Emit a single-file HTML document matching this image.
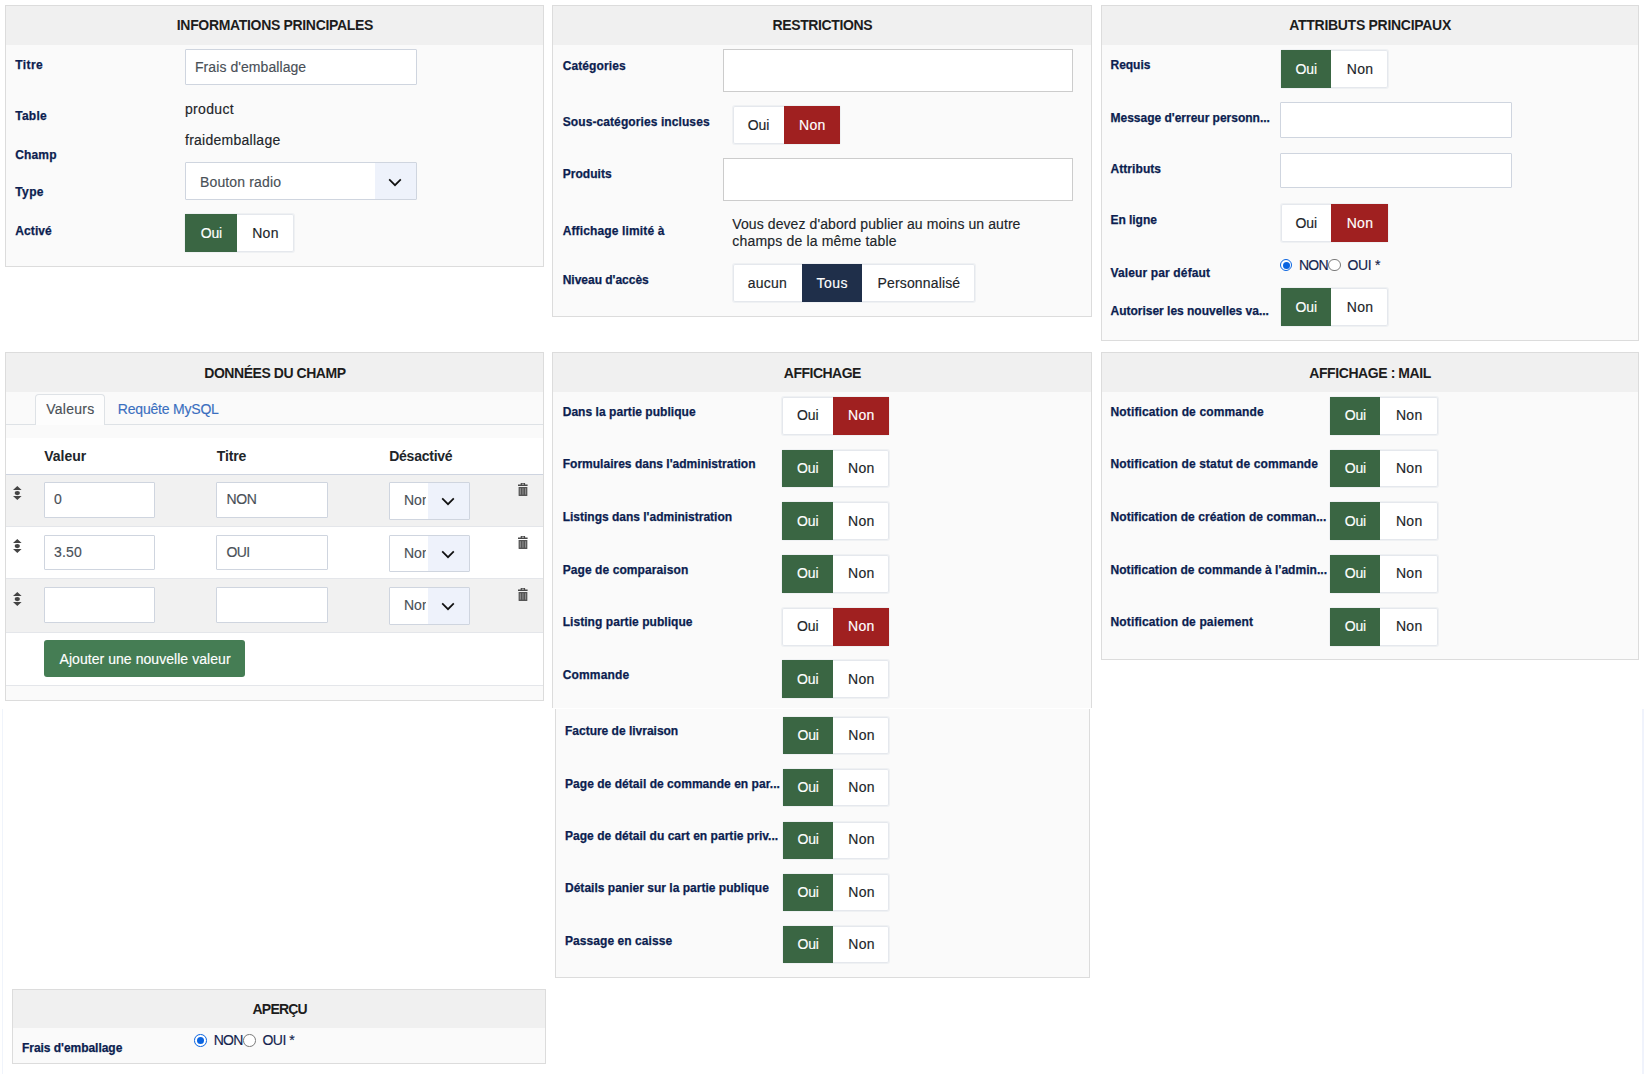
<!DOCTYPE html>
<html lang="fr"><head><meta charset="utf-8"><title>Champ</title><style>
html,body{margin:0;padding:0;background:#fff;}
#p{position:relative;width:1644px;height:1080px;overflow:hidden;background:#fff;font-family:"Liberation Sans",sans-serif;}
#p div{position:absolute;}
.t{position:absolute;white-space:nowrap;display:block;}
.h{font-weight:bold;font-size:14px;color:#1d1d1d;}
.l{font-weight:bold;font-size:12px;color:#0c1e50;-webkit-text-stroke:0.25px #0c1e50;}
.th{font-weight:bold;font-size:14px;color:#212529;}
.n{font-size:14px;-webkit-text-stroke:0.15px currentColor;}
.b{font-size:14px;color:#212529;-webkit-text-stroke:0.15px currentColor;}
.w{color:#fff;}
.g{color:#495057;}
.d{color:#212529;}
.v{color:#14244e;}
</style></head><body><div id="p">
<div style="left:5px;top:5px;width:539px;height:262px;background:#fafafa;border:1px solid #dcdcdc;box-sizing:border-box;"></div>
<div style="left:6px;top:6px;width:537px;height:39px;background:#f0f0f0;"></div>
<span class="t h" style="left:176.8px;top:15px;line-height:20px;letter-spacing:-0.327px;">INFORMATIONS PRINCIPALES</span>
<span class="t l" style="left:15.3px;top:55px;line-height:20px;letter-spacing:0.421px;">Titre</span>
<span class="t l" style="left:15.3px;top:106px;line-height:20px;letter-spacing:0.229px;">Table</span>
<span class="t l" style="left:15.3px;top:145px;line-height:20px;letter-spacing:0.126px;">Champ</span>
<span class="t l" style="left:15.3px;top:182px;line-height:20px;letter-spacing:0.369px;">Type</span>
<span class="t l" style="left:15.3px;top:221px;line-height:20px;letter-spacing:0.095px;">Activé</span>
<div style="left:185px;top:49px;width:232px;height:36px;background:#fff;border:1px solid #cfd5df;box-sizing:border-box;border-radius:1px;"></div>
<span class="t n g" style="left:195px;top:57px;line-height:20px;letter-spacing:0.067px;">Frais d'emballage</span>
<span class="t n d" style="left:185px;top:99px;line-height:20px;letter-spacing:0.328px;">product</span>
<span class="t n d" style="left:185px;top:130px;line-height:20px;letter-spacing:0.261px;">fraidemballage</span>
<div style="left:185px;top:162px;width:232px;height:38px;background:#fff;border:1px solid #cfd5df;box-sizing:border-box;border-radius:1px;"></div>
<div style="left:375px;top:163px;width:41px;height:36px;background:#eef2fb;"></div>
<span class="t n g" style="left:200px;top:172px;line-height:20px;letter-spacing:0.141px;">Bouton radio</span>
<svg width="14" height="9" viewBox="0 0 14 9" style="position:absolute;left:388px;top:178.1px"><path d="M1.2 1.3 L7 7.2 L12.8 1.3" fill="none" stroke="#111" stroke-width="1.7" stroke-linecap="butt" stroke-linejoin="miter"/></svg>
<div style="left:185.4px;top:214px;width:108.2px;height:37.9px;background:#fff;box-shadow:inset 0 0 0 1px rgba(222,226,232,.8),0 0 0 1px rgba(222,226,232,.38);border-radius:2px;"></div>
<div style="left:185.4px;top:214px;width:51.2px;height:37.9px;background:#3a6643;"></div>
<span class="t b w" style="left:200.65px;top:223px;line-height:20px;letter-spacing:-0.099px;">Oui</span>
<span class="t b" style="left:252.2px;top:223px;line-height:20px;letter-spacing:0.304px;">Non</span>
<div style="left:552px;top:5px;width:540px;height:312px;background:#fafafa;border:1px solid #dcdcdc;box-sizing:border-box;"></div>
<div style="left:553px;top:6px;width:538px;height:39px;background:#f0f0f0;"></div>
<span class="t h" style="left:772.5px;top:15px;line-height:20px;letter-spacing:-0.37px;">RESTRICTIONS</span>
<span class="t l" style="left:562.7px;top:56px;line-height:20px;letter-spacing:0.097px;">Catégories</span>
<span class="t l" style="left:562.7px;top:112px;line-height:20px;letter-spacing:0.094px;">Sous-catégories incluses</span>
<span class="t l" style="left:562.7px;top:164px;line-height:20px;letter-spacing:0.041px;">Produits</span>
<span class="t l" style="left:562.7px;top:221px;line-height:20px;letter-spacing:0.136px;">Affichage limité à</span>
<span class="t l" style="left:562.7px;top:270px;line-height:20px;letter-spacing:-0.011px;">Niveau d'accès</span>
<div style="left:723px;top:49px;width:350px;height:43px;background:#fff;border:1px solid #ccc;box-sizing:border-box;"></div>
<div style="left:732.5px;top:106px;width:107.5px;height:37.7px;background:#fff;box-shadow:inset 0 0 0 1px rgba(222,226,232,.8),0 0 0 1px rgba(222,226,232,.38);border-radius:2px;"></div>
<span class="t b" style="left:747.8px;top:115px;line-height:20px;letter-spacing:-0.099px;">Oui</span>
<div style="left:783.8px;top:106px;width:56.2px;height:37.7px;background:#a02020;"></div>
<span class="t b w" style="left:799.0px;top:115px;line-height:20px;letter-spacing:0.304px;">Non</span>
<div style="left:723px;top:158px;width:350px;height:43px;background:#fff;border:1px solid #ccc;box-sizing:border-box;"></div>
<span class="t n d" style="left:732.3px;top:214px;line-height:20px;letter-spacing:0.086px;">Vous devez d'abord publier au moins un autre</span>
<span class="t n d" style="left:732.3px;top:231px;line-height:20px;letter-spacing:0.178px;">champs de la même table</span>
<div style="left:732.5px;top:264.2px;width:242.5px;height:37.6px;background:#fff;box-shadow:inset 0 0 0 1px rgba(222,226,232,.8),0 0 0 1px rgba(222,226,232,.38);border-radius:2px;"></div>
<span class="t b" style="left:747.8px;top:273px;line-height:20px;letter-spacing:0.229px;">aucun</span>
<div style="left:801.6px;top:264.2px;width:60.4px;height:37.6px;background:#1f2f4a;"></div>
<span class="t b w" style="left:816.6px;top:273px;line-height:20px;letter-spacing:0.405px;">Tous</span>
<span class="t b" style="left:877.5px;top:273px;line-height:20px;letter-spacing:0.155px;">Personnalisé</span>
<div style="left:1100.6px;top:5px;width:538.2px;height:336px;background:#fafafa;border:1px solid #dcdcdc;box-sizing:border-box;"></div>
<div style="left:1101.6px;top:6px;width:536.2px;height:39px;background:#f0f0f0;"></div>
<span class="t h" style="left:1289.25px;top:15px;line-height:20px;letter-spacing:-0.289px;">ATTRIBUTS PRINCIPAUX</span>
<span class="t l" style="left:1110.5px;top:55px;line-height:20px;letter-spacing:-0.019px;">Requis</span>
<span class="t l" style="left:1110.5px;top:108px;line-height:20px;letter-spacing:-0.007px;">Message d'erreur personn...</span>
<span class="t l" style="left:1110.5px;top:159px;line-height:20px;letter-spacing:0.067px;">Attributs</span>
<span class="t l" style="left:1110.5px;top:210px;line-height:20px;letter-spacing:-0.046px;">En ligne</span>
<span class="t l" style="left:1110.5px;top:263px;line-height:20px;letter-spacing:0.137px;">Valeur par défaut</span>
<span class="t l" style="left:1110.5px;top:301px;line-height:20px;letter-spacing:-0.012px;">Autoriser les nouvelles va...</span>
<div style="left:1280.8px;top:49.9px;width:107.7px;height:37.7px;background:#fff;box-shadow:inset 0 0 0 1px rgba(222,226,232,.8),0 0 0 1px rgba(222,226,232,.38);border-radius:2px;"></div>
<div style="left:1280.8px;top:49.9px;width:50.1px;height:37.7px;background:#3a6643;"></div>
<span class="t b w" style="left:1295.5px;top:59px;line-height:20px;letter-spacing:-0.099px;">Oui</span>
<span class="t b" style="left:1346.8px;top:59px;line-height:20px;letter-spacing:0.304px;">Non</span>
<div style="left:1280px;top:102px;width:231.6px;height:35.8px;background:#fff;border:1px solid #cfd5df;box-sizing:border-box;border-radius:1px;"></div>
<div style="left:1280px;top:153px;width:231.6px;height:35.2px;background:#fff;border:1px solid #cfd5df;box-sizing:border-box;border-radius:1px;"></div>
<div style="left:1280.8px;top:204px;width:107.5px;height:37.9px;background:#fff;box-shadow:inset 0 0 0 1px rgba(222,226,232,.8),0 0 0 1px rgba(222,226,232,.38);border-radius:2px;"></div>
<span class="t b" style="left:1295.5px;top:213px;line-height:20px;letter-spacing:-0.099px;">Oui</span>
<div style="left:1330.8999999999999px;top:204px;width:57.4px;height:37.9px;background:#a02020;"></div>
<span class="t b w" style="left:1346.7px;top:213px;line-height:20px;letter-spacing:0.304px;">Non</span>
<div style="left:1279.80px;top:258.80px;width:12.6px;height:12.6px;box-sizing:border-box;border:1.5px solid #0a64e0;border-radius:50%;background:#fff"></div>
<div style="left:1282.60px;top:261.60px;width:7px;height:7px;border-radius:50%;background:#0a64e0"></div>
<span class="t n v" style="left:1298.9px;top:255px;line-height:20px;letter-spacing:-0.675px;">NON</span>
<div style="left:1328.20px;top:258.80px;width:12.6px;height:12.6px;box-sizing:border-box;border:1.1px solid #7a7a7a;border-radius:50%;background:#fff"></div>
<span class="t n v" style="left:1347.6px;top:255px;line-height:20px;letter-spacing:-0.367px;">OUI *</span>
<div style="left:1280.8px;top:288.1px;width:107.7px;height:37.7px;background:#fff;box-shadow:inset 0 0 0 1px rgba(222,226,232,.8),0 0 0 1px rgba(222,226,232,.38);border-radius:2px;"></div>
<div style="left:1280.8px;top:288.1px;width:50.1px;height:37.7px;background:#3a6643;"></div>
<span class="t b w" style="left:1295.5px;top:297px;line-height:20px;letter-spacing:-0.099px;">Oui</span>
<span class="t b" style="left:1346.8px;top:297px;line-height:20px;letter-spacing:0.304px;">Non</span>
<div style="left:5px;top:352px;width:539px;height:349px;background:#fafafa;border:1px solid #dcdcdc;box-sizing:border-box;"></div>
<div style="left:6px;top:353px;width:537px;height:39px;background:#f0f0f0;"></div>
<span class="t h" style="left:204.25px;top:363px;line-height:20px;letter-spacing:-0.455px;">DONNÉES DU CHAMP</span>
<div style="left:6px;top:424px;width:537px;height:1px;background:#dee2e6;"></div>
<div style="left:35px;top:394px;width:70px;height:31px;background:#fdfdfd;border:1px solid #dee2e6;border-bottom:none;box-sizing:border-box;border-radius:4px 4px 0 0;"></div>
<span class="t n g" style="left:46.3px;top:399px;line-height:20px;letter-spacing:0.237px;">Valeurs</span>
<span class="t n" style="left:117.8px;top:399px;line-height:20px;letter-spacing:-0.2px;color:#3a6fc0;">Requête MySQL</span>
<div style="left:6px;top:438px;width:537px;height:247.5px;background:#fff;"></div>
<span class="t th" style="left:44.3px;top:446px;line-height:20px;letter-spacing:-0.022px;">Valeur</span>
<span class="t th" style="left:216.8px;top:446px;line-height:20px;letter-spacing:-0.159px;">Titre</span>
<span class="t th" style="left:389.2px;top:446px;line-height:20px;letter-spacing:-0.243px;">Désactivé</span>
<div style="left:6px;top:474px;width:537px;height:1px;background:#ced4e0;"></div>
<div style="left:6px;top:475px;width:537px;height:51.4px;background:#f1f1f1;"></div>
<div style="left:6px;top:525.8px;width:537px;height:1px;background:#e4e6ea;"></div>
<svg width="8.6" height="14" viewBox="0 0 8.6 14" style="position:absolute;left:13.1px;top:486.05px"><path d="M4.3 0 L8.6 3.95 H0 Z M4.3 13.95 L0 10 H8.6 Z" fill="#444"/><ellipse cx="4.3" cy="7.05" rx="2.65" ry="2.1" fill="#444"/></svg>
<div style="left:44px;top:482.1px;width:111.2px;height:35.9px;background:#fff;border:1px solid #cfd5df;box-sizing:border-box;border-radius:1px;"></div>
<span class="t n g" style="left:54.1px;top:489px;line-height:20px;letter-spacing:0.803px;">0</span>
<div style="left:216px;top:482.1px;width:111.6px;height:35.9px;background:#fff;border:1px solid #cfd5df;box-sizing:border-box;border-radius:1px;"></div>
<span class="t n g" style="left:226.4px;top:489px;line-height:20px;letter-spacing:-0.308px;">NON</span>
<div style="left:389px;top:482.3px;width:80.6px;height:37.3px;background:#fff;border:1px solid #cfd5df;box-sizing:border-box;border-radius:1px;"></div>
<div style="left:427.7px;top:483.3px;width:40.900000000000034px;height:35.3px;background:#eef2fb;"></div>
<span class="t n g" style="left:404px;top:490px;line-height:20px;width:22.3px;overflow:hidden;">Non</span>
<svg width="14" height="9" viewBox="0 0 14 9" style="position:absolute;left:440.7px;top:497.0px"><path d="M1.2 1.3 L7 7.2 L12.8 1.3" fill="none" stroke="#111" stroke-width="1.7" stroke-linecap="butt" stroke-linejoin="miter"/></svg>
<svg width="9.6" height="13" viewBox="0 0 9.6 13" style="position:absolute;left:518.3px;top:483.05px"><path d="M2.7 0 H7.1 V1.6 H9.6 V3.1 H0 V1.6 H2.7 Z M3.9 0.8 V1.6 H5.9 V0.8 Z" fill="#484848" fill-rule="evenodd"/><path d="M0.6 3.9 H9.35 V12.4 Q9.35 13 8.75 13 H1.2 Q0.6 13 0.6 12.4 Z" fill="#555"/><path d="M2.3 5.2 V11.6 M4.95 5.2 V11.6 M7.6 5.2 V11.6" stroke="#9c9c9c" stroke-width="0.9"/></svg>
<div style="left:6px;top:578.3px;width:537px;height:1px;background:#e4e6ea;"></div>
<svg width="8.6" height="14" viewBox="0 0 8.6 14" style="position:absolute;left:13.1px;top:538.9px"><path d="M4.3 0 L8.6 3.95 H0 Z M4.3 13.95 L0 10 H8.6 Z" fill="#444"/><ellipse cx="4.3" cy="7.05" rx="2.65" ry="2.1" fill="#444"/></svg>
<div style="left:44px;top:534.7px;width:111.2px;height:35.4px;background:#fff;border:1px solid #cfd5df;box-sizing:border-box;border-radius:1px;"></div>
<span class="t n g" style="left:54.1px;top:542px;line-height:20px;letter-spacing:0.163px;">3.50</span>
<div style="left:216px;top:534.7px;width:111.6px;height:35.4px;background:#fff;border:1px solid #cfd5df;box-sizing:border-box;border-radius:1px;"></div>
<span class="t n g" style="left:226.4px;top:542px;line-height:20px;letter-spacing:-0.564px;">OUI</span>
<div style="left:389px;top:534.9000000000001px;width:80.6px;height:37.3px;background:#fff;border:1px solid #cfd5df;box-sizing:border-box;border-radius:1px;"></div>
<div style="left:427.7px;top:535.9000000000001px;width:40.900000000000034px;height:35.3px;background:#eef2fb;"></div>
<span class="t n g" style="left:404px;top:543px;line-height:20px;width:22.3px;overflow:hidden;">Non</span>
<svg width="14" height="9" viewBox="0 0 14 9" style="position:absolute;left:440.7px;top:549.6px"><path d="M1.2 1.3 L7 7.2 L12.8 1.3" fill="none" stroke="#111" stroke-width="1.7" stroke-linecap="butt" stroke-linejoin="miter"/></svg>
<svg width="9.6" height="13" viewBox="0 0 9.6 13" style="position:absolute;left:518.3px;top:535.6500000000001px"><path d="M2.7 0 H7.1 V1.6 H9.6 V3.1 H0 V1.6 H2.7 Z M3.9 0.8 V1.6 H5.9 V0.8 Z" fill="#484848" fill-rule="evenodd"/><path d="M0.6 3.9 H9.35 V12.4 Q9.35 13 8.75 13 H1.2 Q0.6 13 0.6 12.4 Z" fill="#555"/><path d="M2.3 5.2 V11.6 M4.95 5.2 V11.6 M7.6 5.2 V11.6" stroke="#9c9c9c" stroke-width="0.9"/></svg>
<div style="left:6px;top:578.9px;width:537px;height:53.2px;background:#f1f1f1;"></div>
<div style="left:6px;top:631.5px;width:537px;height:1px;background:#e4e6ea;"></div>
<svg width="8.6" height="14" viewBox="0 0 8.6 14" style="position:absolute;left:13.1px;top:591.5px"><path d="M4.3 0 L8.6 3.95 H0 Z M4.3 13.95 L0 10 H8.6 Z" fill="#444"/><ellipse cx="4.3" cy="7.05" rx="2.65" ry="2.1" fill="#444"/></svg>
<div style="left:44px;top:587.1px;width:111.2px;height:36.1px;background:#fff;border:1px solid #cfd5df;box-sizing:border-box;border-radius:1px;"></div>
<div style="left:216px;top:587.1px;width:111.6px;height:36.1px;background:#fff;border:1px solid #cfd5df;box-sizing:border-box;border-radius:1px;"></div>
<div style="left:389px;top:587.3000000000001px;width:80.6px;height:37.3px;background:#fff;border:1px solid #cfd5df;box-sizing:border-box;border-radius:1px;"></div>
<div style="left:427.7px;top:588.3000000000001px;width:40.900000000000034px;height:35.3px;background:#eef2fb;"></div>
<span class="t n g" style="left:404px;top:595px;line-height:20px;width:22.3px;overflow:hidden;">Non</span>
<svg width="14" height="9" viewBox="0 0 14 9" style="position:absolute;left:440.7px;top:602.0px"><path d="M1.2 1.3 L7 7.2 L12.8 1.3" fill="none" stroke="#111" stroke-width="1.7" stroke-linecap="butt" stroke-linejoin="miter"/></svg>
<svg width="9.6" height="13" viewBox="0 0 9.6 13" style="position:absolute;left:518.3px;top:588.0500000000001px"><path d="M2.7 0 H7.1 V1.6 H9.6 V3.1 H0 V1.6 H2.7 Z M3.9 0.8 V1.6 H5.9 V0.8 Z" fill="#484848" fill-rule="evenodd"/><path d="M0.6 3.9 H9.35 V12.4 Q9.35 13 8.75 13 H1.2 Q0.6 13 0.6 12.4 Z" fill="#555"/><path d="M2.3 5.2 V11.6 M4.95 5.2 V11.6 M7.6 5.2 V11.6" stroke="#9c9c9c" stroke-width="0.9"/></svg>
<div style="left:43.8px;top:639.9px;width:201.6px;height:37.3px;background:#457d54;border-radius:3px;"></div>
<span class="t n w" style="left:59.5px;top:649px;line-height:20px;letter-spacing:0.053px;">Ajouter une nouvelle valeur</span>
<div style="left:6px;top:685px;width:537px;height:1px;background:#e4e6ea;"></div>
<div style="left:552px;top:352px;width:540px;height:356px;background:#fafafa;border:1px solid #dcdcdc;box-sizing:border-box;border-bottom:none;"></div>
<div style="left:553px;top:353px;width:538px;height:39px;background:#f0f0f0;"></div>
<span class="t h" style="left:783.85px;top:363px;line-height:20px;letter-spacing:-0.508px;">AFFICHAGE</span>
<span class="t l" style="left:562.7px;top:402px;line-height:20px;letter-spacing:0.042px;">Dans la partie publique</span>
<div style="left:781.6px;top:396.9px;width:107.4px;height:37.9px;background:#fff;box-shadow:inset 0 0 0 1px rgba(222,226,232,.8),0 0 0 1px rgba(222,226,232,.38);border-radius:2px;"></div>
<span class="t b" style="left:796.95px;top:405px;line-height:20px;letter-spacing:-0.099px;">Oui</span>
<div style="left:833.0px;top:396.9px;width:56px;height:37.9px;background:#a02020;"></div>
<span class="t b w" style="left:848.1px;top:405px;line-height:20px;letter-spacing:0.304px;">Non</span>
<span class="t l" style="left:562.7px;top:454px;line-height:20px;letter-spacing:0.017px;">Formulaires dans l'administration</span>
<div style="left:781.6px;top:449.59999999999997px;width:107.4px;height:37.9px;background:#fff;box-shadow:inset 0 0 0 1px rgba(222,226,232,.8),0 0 0 1px rgba(222,226,232,.38);border-radius:2px;"></div>
<div style="left:781.6px;top:449.59999999999997px;width:51.4px;height:37.9px;background:#3a6643;"></div>
<span class="t b w" style="left:796.95px;top:458px;line-height:20px;letter-spacing:-0.099px;">Oui</span>
<span class="t b" style="left:848.1px;top:458px;line-height:20px;letter-spacing:0.304px;">Non</span>
<span class="t l" style="left:562.7px;top:507px;line-height:20px;letter-spacing:-0.005px;">Listings dans l'administration</span>
<div style="left:781.6px;top:502.29999999999995px;width:107.4px;height:37.9px;background:#fff;box-shadow:inset 0 0 0 1px rgba(222,226,232,.8),0 0 0 1px rgba(222,226,232,.38);border-radius:2px;"></div>
<div style="left:781.6px;top:502.29999999999995px;width:51.4px;height:37.9px;background:#3a6643;"></div>
<span class="t b w" style="left:796.95px;top:511px;line-height:20px;letter-spacing:-0.099px;">Oui</span>
<span class="t b" style="left:848.1px;top:511px;line-height:20px;letter-spacing:0.304px;">Non</span>
<span class="t l" style="left:562.7px;top:560px;line-height:20px;letter-spacing:0.082px;">Page de comparaison</span>
<div style="left:781.6px;top:555.0px;width:107.4px;height:37.9px;background:#fff;box-shadow:inset 0 0 0 1px rgba(222,226,232,.8),0 0 0 1px rgba(222,226,232,.38);border-radius:2px;"></div>
<div style="left:781.6px;top:555.0px;width:51.4px;height:37.9px;background:#3a6643;"></div>
<span class="t b w" style="left:796.95px;top:563px;line-height:20px;letter-spacing:-0.099px;">Oui</span>
<span class="t b" style="left:848.1px;top:563px;line-height:20px;letter-spacing:0.304px;">Non</span>
<span class="t l" style="left:562.7px;top:612px;line-height:20px;letter-spacing:0.053px;">Listing partie publique</span>
<div style="left:781.6px;top:607.6999999999999px;width:107.4px;height:37.9px;background:#fff;box-shadow:inset 0 0 0 1px rgba(222,226,232,.8),0 0 0 1px rgba(222,226,232,.38);border-radius:2px;"></div>
<span class="t b" style="left:796.95px;top:616px;line-height:20px;letter-spacing:-0.099px;">Oui</span>
<div style="left:833.0px;top:607.6999999999999px;width:56px;height:37.9px;background:#a02020;"></div>
<span class="t b w" style="left:848.1px;top:616px;line-height:20px;letter-spacing:0.304px;">Non</span>
<span class="t l" style="left:562.7px;top:665px;line-height:20px;letter-spacing:0.17px;">Commande</span>
<div style="left:781.6px;top:660.4px;width:107.4px;height:37.9px;background:#fff;box-shadow:inset 0 0 0 1px rgba(222,226,232,.8),0 0 0 1px rgba(222,226,232,.38);border-radius:2px;"></div>
<div style="left:781.6px;top:660.4px;width:51.4px;height:37.9px;background:#3a6643;"></div>
<span class="t b w" style="left:796.95px;top:669px;line-height:20px;letter-spacing:-0.099px;">Oui</span>
<span class="t b" style="left:848.1px;top:669px;line-height:20px;letter-spacing:0.304px;">Non</span>
<div style="left:0px;top:708px;width:1644px;height:372px;background:#fff;"></div>
<div style="left:555px;top:709px;width:535px;height:269px;background:#fafafa;border:1px solid #dcdcdc;border-top:none;box-sizing:border-box;"></div>
<span class="t l" style="left:565px;top:721px;line-height:20px;letter-spacing:-0.009px;">Facture de livraison</span>
<div style="left:782.6px;top:716.8px;width:106.9px;height:37px;background:#fff;box-shadow:inset 0 0 0 1px rgba(222,226,232,.8),0 0 0 1px rgba(222,226,232,.38);border-radius:2px;"></div>
<div style="left:782.6px;top:716.8px;width:50.3px;height:37px;background:#3a6643;"></div>
<span class="t b w" style="left:797.4px;top:725px;line-height:20px;letter-spacing:-0.099px;">Oui</span>
<span class="t b" style="left:848.3px;top:725px;line-height:20px;letter-spacing:0.304px;">Non</span>
<span class="t l" style="left:565px;top:774px;line-height:20px;letter-spacing:0.041px;">Page de détail de commande en par...</span>
<div style="left:782.6px;top:769px;width:106.9px;height:37px;background:#fff;box-shadow:inset 0 0 0 1px rgba(222,226,232,.8),0 0 0 1px rgba(222,226,232,.38);border-radius:2px;"></div>
<div style="left:782.6px;top:769px;width:50.3px;height:37px;background:#3a6643;"></div>
<span class="t b w" style="left:797.4px;top:777px;line-height:20px;letter-spacing:-0.099px;">Oui</span>
<span class="t b" style="left:848.3px;top:777px;line-height:20px;letter-spacing:0.304px;">Non</span>
<span class="t l" style="left:565px;top:826px;line-height:20px;letter-spacing:0.034px;">Page de détail du cart en partie priv...</span>
<div style="left:782.6px;top:821.5px;width:106.9px;height:37px;background:#fff;box-shadow:inset 0 0 0 1px rgba(222,226,232,.8),0 0 0 1px rgba(222,226,232,.38);border-radius:2px;"></div>
<div style="left:782.6px;top:821.5px;width:50.3px;height:37px;background:#3a6643;"></div>
<span class="t b w" style="left:797.4px;top:829px;line-height:20px;letter-spacing:-0.099px;">Oui</span>
<span class="t b" style="left:848.3px;top:829px;line-height:20px;letter-spacing:0.304px;">Non</span>
<span class="t l" style="left:565px;top:878px;line-height:20px;letter-spacing:0.014px;">Détails panier sur la partie publique</span>
<div style="left:782.6px;top:873.7px;width:106.9px;height:37px;background:#fff;box-shadow:inset 0 0 0 1px rgba(222,226,232,.8),0 0 0 1px rgba(222,226,232,.38);border-radius:2px;"></div>
<div style="left:782.6px;top:873.7px;width:50.3px;height:37px;background:#3a6643;"></div>
<span class="t b w" style="left:797.4px;top:882px;line-height:20px;letter-spacing:-0.099px;">Oui</span>
<span class="t b" style="left:848.3px;top:882px;line-height:20px;letter-spacing:0.304px;">Non</span>
<span class="t l" style="left:565px;top:931px;line-height:20px;letter-spacing:0.066px;">Passage en caisse</span>
<div style="left:782.6px;top:926.2px;width:106.9px;height:37px;background:#fff;box-shadow:inset 0 0 0 1px rgba(222,226,232,.8),0 0 0 1px rgba(222,226,232,.38);border-radius:2px;"></div>
<div style="left:782.6px;top:926.2px;width:50.3px;height:37px;background:#3a6643;"></div>
<span class="t b w" style="left:797.4px;top:934px;line-height:20px;letter-spacing:-0.099px;">Oui</span>
<span class="t b" style="left:848.3px;top:934px;line-height:20px;letter-spacing:0.304px;">Non</span>
<div style="left:1100.6px;top:352px;width:538.2px;height:308px;background:#fafafa;border:1px solid #dcdcdc;box-sizing:border-box;"></div>
<div style="left:1101.6px;top:353px;width:536.2px;height:39px;background:#f0f0f0;"></div>
<span class="t h" style="left:1309.3px;top:363px;line-height:20px;letter-spacing:-0.421px;">AFFICHAGE : MAIL</span>
<span class="t l" style="left:1110.5px;top:402px;line-height:20px;letter-spacing:0.14px;">Notification de commande</span>
<div style="left:1329.9px;top:396.9px;width:107.7px;height:37.9px;background:#fff;box-shadow:inset 0 0 0 1px rgba(222,226,232,.8),0 0 0 1px rgba(222,226,232,.38);border-radius:2px;"></div>
<div style="left:1329.9px;top:396.9px;width:50.2px;height:37.9px;background:#3a6643;"></div>
<span class="t b w" style="left:1344.65px;top:405px;line-height:20px;letter-spacing:-0.099px;">Oui</span>
<span class="t b" style="left:1395.95px;top:405px;line-height:20px;letter-spacing:0.304px;">Non</span>
<span class="t l" style="left:1110.5px;top:454px;line-height:20px;letter-spacing:0.125px;">Notification de statut de commande</span>
<div style="left:1329.9px;top:449.59999999999997px;width:107.7px;height:37.9px;background:#fff;box-shadow:inset 0 0 0 1px rgba(222,226,232,.8),0 0 0 1px rgba(222,226,232,.38);border-radius:2px;"></div>
<div style="left:1329.9px;top:449.59999999999997px;width:50.2px;height:37.9px;background:#3a6643;"></div>
<span class="t b w" style="left:1344.65px;top:458px;line-height:20px;letter-spacing:-0.099px;">Oui</span>
<span class="t b" style="left:1395.95px;top:458px;line-height:20px;letter-spacing:0.304px;">Non</span>
<span class="t l" style="left:1110.5px;top:507px;line-height:20px;letter-spacing:0.068px;">Notification de création de comman...</span>
<div style="left:1329.9px;top:502.29999999999995px;width:107.7px;height:37.9px;background:#fff;box-shadow:inset 0 0 0 1px rgba(222,226,232,.8),0 0 0 1px rgba(222,226,232,.38);border-radius:2px;"></div>
<div style="left:1329.9px;top:502.29999999999995px;width:50.2px;height:37.9px;background:#3a6643;"></div>
<span class="t b w" style="left:1344.65px;top:511px;line-height:20px;letter-spacing:-0.099px;">Oui</span>
<span class="t b" style="left:1395.95px;top:511px;line-height:20px;letter-spacing:0.304px;">Non</span>
<span class="t l" style="left:1110.5px;top:560px;line-height:20px;letter-spacing:0.046px;">Notification de commande à l'admin...</span>
<div style="left:1329.9px;top:555.0px;width:107.7px;height:37.9px;background:#fff;box-shadow:inset 0 0 0 1px rgba(222,226,232,.8),0 0 0 1px rgba(222,226,232,.38);border-radius:2px;"></div>
<div style="left:1329.9px;top:555.0px;width:50.2px;height:37.9px;background:#3a6643;"></div>
<span class="t b w" style="left:1344.65px;top:563px;line-height:20px;letter-spacing:-0.099px;">Oui</span>
<span class="t b" style="left:1395.95px;top:563px;line-height:20px;letter-spacing:0.304px;">Non</span>
<span class="t l" style="left:1110.5px;top:612px;line-height:20px;letter-spacing:0.139px;">Notification de paiement</span>
<div style="left:1329.9px;top:607.6999999999999px;width:107.7px;height:37.9px;background:#fff;box-shadow:inset 0 0 0 1px rgba(222,226,232,.8),0 0 0 1px rgba(222,226,232,.38);border-radius:2px;"></div>
<div style="left:1329.9px;top:607.6999999999999px;width:50.2px;height:37.9px;background:#3a6643;"></div>
<span class="t b w" style="left:1344.65px;top:616px;line-height:20px;letter-spacing:-0.099px;">Oui</span>
<span class="t b" style="left:1395.95px;top:616px;line-height:20px;letter-spacing:0.304px;">Non</span>
<div style="left:12px;top:989px;width:534.4px;height:75px;background:#fafafa;border:1px solid #dcdcdc;box-sizing:border-box;"></div>
<div style="left:13px;top:990px;width:532.4px;height:37.6px;background:#f0f0f0;"></div>
<span class="t h" style="left:252.55px;top:999px;line-height:20px;letter-spacing:-0.804px;">APERÇU</span>
<span class="t l" style="left:22.0px;top:1038px;line-height:20px;letter-spacing:-0.036px;">Frais d'emballage</span>
<div style="left:194.30px;top:1034.00px;width:12.6px;height:12.6px;box-sizing:border-box;border:1.5px solid #0a64e0;border-radius:50%;background:#fff"></div>
<div style="left:197.10px;top:1036.80px;width:7px;height:7px;border-radius:50%;background:#0a64e0"></div>
<span class="t n v" style="left:213.7px;top:1030px;line-height:20px;letter-spacing:-0.708px;">NON</span>
<div style="left:243.10px;top:1034.00px;width:12.6px;height:12.6px;box-sizing:border-box;border:1.1px solid #7a7a7a;border-radius:50%;background:#fff"></div>
<span class="t n v" style="left:262.4px;top:1030px;line-height:20px;letter-spacing:-0.467px;">OUI *</span>
<div style="left:2px;top:709px;width:1.3px;height:364.5px;background:#f0f4fb;"></div>
<div style="left:1642px;top:709px;width:2px;height:364.5px;background:#f0f3fc;"></div>
</div></body></html>
